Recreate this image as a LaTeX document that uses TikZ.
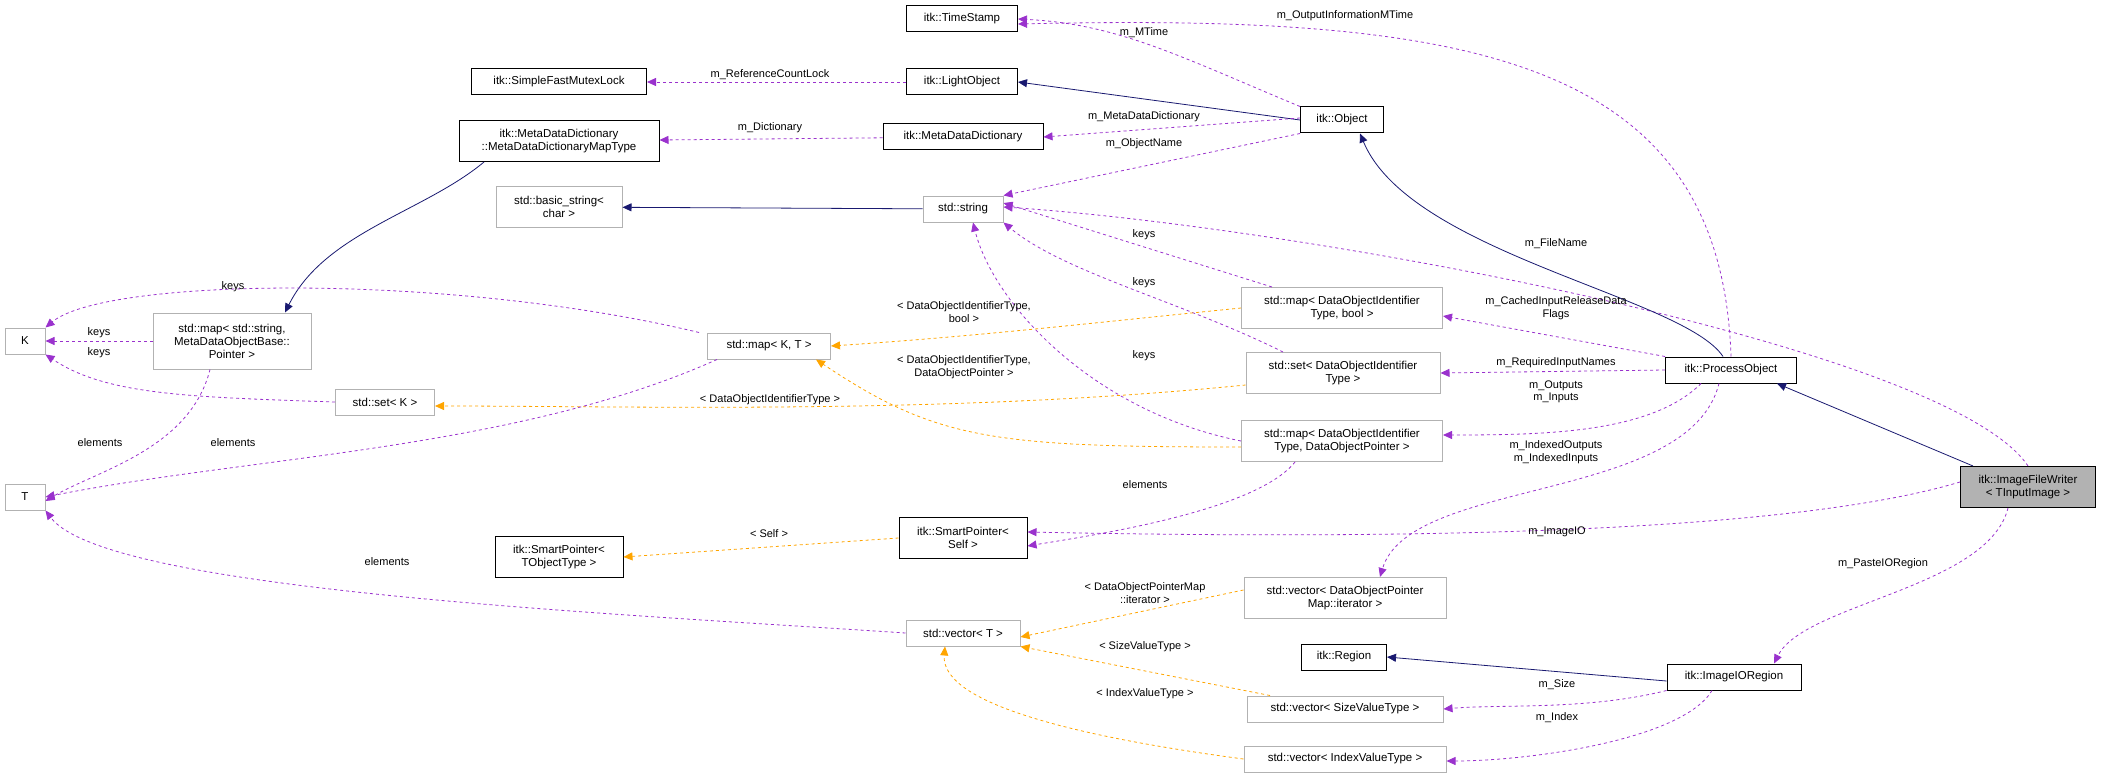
\documentclass[tikz,border=0pt]{standalone}
\usepackage{fontspec}
\setmainfont{Liberation Sans}
\usetikzlibrary{arrows.meta}
\definecolor{pur}{HTML}{9A32CD}
\definecolor{nav}{HTML}{191970}
\definecolor{org}{HTML}{FFA500}
\begin{document}
\begin{tikzpicture}[x=1pt,y=-1pt,
 every node/.style={font=\fontsize{11.5}{13}\selectfont,align=center,inner sep=0pt},
 cls/.style={draw=black,line width=1pt,minimum width=#1},
 ext/.style={draw=gray!60,line width=1pt,minimum width=#1},
 h1/.style={minimum height=26pt},
 h2/.style={minimum height=41pt},
 tip/.style={-{Triangle[length=9pt,width=8pt]}},
 mem/.style={tip,draw=pur,dashed,line width=0.8pt},
 tpl/.style={tip,draw=org,dashed,line width=0.8pt},
 inh/.style={tip,draw=nav,line width=0.8pt},
 lbl/.style={font=\fontsize{11}{12.5}\selectfont}]
\useasboundingbox (0,0) rectangle (2104,773);
% nodes
\node[cls=111,h1] (ts) at (962,19) {itk::TimeStamp};
\node[cls=175,h1] (sfm) at (559,82) {itk::SimpleFastMutexLock};
\node[cls=111,h1] (lo) at (962,82) {itk::LightObject};
\node[cls=200,h2] (mt) at (559,141) {itk::MetaDataDictionary\\::MetaDataDictionaryMapType};
\node[cls=160,h1] (mdd) at (963,137) {itk::MetaDataDictionary};
\node[ext=126,h2] (bs) at (559,207) {std::basic\_string\textless\\char \textgreater};
\node[ext=80,h1] (str) at (963,209) {std::string};
\node[cls=83,h1] (obj) at (1342,120) {itk::Object};
\node[ext=40,h1] (K) at (25,341) {K};
\node[ext=158,minimum height=56pt] (msm) at (232,341) {std::map\textless{} std::string,\\MetaDataObjectBase::\\Pointer \textgreater};
\node[ext=123,h1] (mkt) at (769,346) {std::map\textless{} K, T \textgreater};
\node[ext=99,h1] (sk) at (385,402) {std::set\textless{} K \textgreater};
\node[ext=40,h1] (T) at (25,497) {T};
\node[ext=201,h2] (mdb) at (1342,308) {std::map\textless{} DataObjectIdentifier\\Type, bool \textgreater};
\node[ext=194,h2] (sdi) at (1343,373) {std::set\textless{} DataObjectIdentifier\\Type \textgreater};
\node[ext=201,h2] (mdp) at (1342,441) {std::map\textless{} DataObjectIdentifier\\Type, DataObjectPointer \textgreater};
\node[cls=131,h1] (po) at (1731,370) {itk::ProcessObject};
\node[cls=135,h2,fill=gray!60] (w) at (2028,487) {itk::ImageFileWriter\\\textless{} TInputImage \textgreater};
\node[cls=128,h2] (sps) at (963,538) {itk::SmartPointer\textless\\Self \textgreater};
\node[cls=128,h2] (spt) at (559,557) {itk::SmartPointer\textless\\TObjectType \textgreater};
\node[ext=202,h2] (vit) at (1345,598) {std::vector\textless{} DataObjectPointer\\Map::iterator \textgreater};
\node[ext=114,h1] (vt) at (963,633) {std::vector\textless{} T \textgreater};
\node[cls=85,h1] (reg) at (1344,657) {itk::Region};
\node[cls=134,h1] (ior) at (1734,677) {itk::ImageIORegion};
\node[ext=196,h1] (vs) at (1345,709) {std::vector\textless{} SizeValueType \textgreater};
\node[ext=202,h1] (vi) at (1345,759) {std::vector\textless{} IndexValueType \textgreater};
% edges
\draw[mem] (obj.north west) .. controls +(-120,-50) and +(100,5) .. (ts.east);
\draw[mem] (po.north) .. controls +(-10,-300) and +(450,-10) .. ([yshift=-5pt]ts.east);
\draw[mem] (lo) -- (sfm);
\draw[inh] (obj.west) -- (lo.east);
\draw[mem] ([yshift=2pt]obj.west) -- (mdd.east);
\draw[mem] (mdd) -- (mt);
\draw[mem] (obj.south west) -- (str.north east);
\draw[inh] (str) -- (bs);
\draw[inh] ([xshift=-75pt]mt.south) .. controls +(-60,50) and +(40,-80) .. ([xshift=53pt]msm.north);
\draw[mem] (w.north) .. controls +(-80,-120) and +(300,20) .. ([yshift=2pt]str.east);
\draw[mem] ([xshift=-70pt]mdb.north) -- ([yshift=6pt]str.east);
\draw[mem] ([xshift=-60pt]sdi.north) .. controls +(-100,-50) and +(60,50) .. (str.south east);
\draw[mem] (mdp.west) .. controls +(-150,-30) and +(20,80) .. ([xshift=10pt]str.south);
\draw[mem] (po.north west) -- ([yshift=-8pt]mdb.east);
\draw[mem] (po.west) -- (sdi.east);
\draw[mem] ([xshift=-30pt]po.south) .. controls +(-50,50) and +(100,0) .. ([yshift=6pt]mdp.east);
\draw[inh] ([xshift=-8pt]po.north) .. controls +(-40,-60) and +(50,120) .. ([xshift=18pt]obj.south);
\draw[inh] ([xshift=-55pt]w.north) -- ([xshift=-20pt]po.south east);
\draw[mem] ([xshift=-12pt]po.south) .. controls +(-30,120) and +(30,-100) .. ([xshift=35pt]vit.north);
\draw[tpl] (mdb.west) .. controls +(-150,15) and +(150,-10) .. (mkt.east);
\draw[tpl] ([yshift=-6pt]mdp.west) .. controls +(-250,0) and +(120,80) .. ([xshift=-15pt]mkt.south east);
\draw[tpl] ([yshift=-12pt]sdi.west) .. controls +(-300,30) and +(200,0) .. ([yshift=-4pt]sk.east);
\draw[mem] ([xshift=-8pt]mkt.north west) .. controls +(-250,-60) and +(60,-50) .. (K.north east);
\draw[mem] (msm.west) -- (K.east);
\draw[mem] (sk.west) .. controls +(-150,-5) and +(60,40) .. (K.south east);
\draw[mem] ([xshift=-22pt]msm.south) .. controls +(-20,80) and +(50,-30) .. ([yshift=-4pt]T.east);
\draw[mem] ([xshift=10pt]mkt.south west) .. controls +(-200,90) and +(200,-40) .. (T.east);
\draw[mem] (vt.west) .. controls +(-300,-20) and +(60,80) .. (T.south east);
\draw[mem] ([xshift=-47pt]mdp.south) .. controls +(-40,50) and +(60,-10) .. ([yshift=-8pt]sps.east);
\draw[tpl] (sps.west) -- (spt.east);
\draw[mem] ([yshift=5pt]w.west) .. controls +(-200,60) and +(250,5) .. ([yshift=6pt]sps.east);
\draw[tpl] ([yshift=8pt]vit.west) -- ([yshift=-4pt]vt.east);
\draw[mem] ([xshift=-20pt]w.south) .. controls +(-20,80) and +(30,-60) .. ([xshift=40pt]ior.north);
\draw[inh] ([yshift=-4pt]ior.west) -- (reg.east);
\draw[mem] (ior.south west) .. controls +(-80,20) and +(60,-5) .. (vs.east);
\draw[mem] ([xshift=-22pt]ior.south) .. controls +(-30,50) and +(80,0) .. ([yshift=-2pt]vi.east);
\draw[tpl] ([xshift=-75pt]vs.north) -- (vt.south east);
\draw[tpl] (vi.west) .. controls +(-150,-20) and +(-5,60) .. ([xshift=-18pt]vt.south);
% labels
\node[lbl] (l1) at (1144,33) {m\_MTime};
\node[lbl] (l2) at (1345,16) {m\_OutputInformationMTime};
\node[lbl] (l3) at (770,75) {m\_ReferenceCountLock};
\node[lbl] (l4) at (1144,117) {m\_MetaDataDictionary};
\node[lbl] (l5) at (770,128) {m\_Dictionary};
\node[lbl] (l6) at (1144,144) {m\_ObjectName};
\node[lbl] (l7) at (1556,244) {m\_FileName};
\node[lbl] (l8) at (1144,235) {keys};
\node[lbl] (l9) at (1144,283) {keys};
\node[lbl] (l10) at (1144,356) {keys};
\node[lbl] (l11) at (1556,308) {m\_CachedInputReleaseData\\Flags};
\node[lbl] (l12) at (1556,363) {m\_RequiredInputNames};
\node[lbl] (l13) at (1556,392) {m\_Outputs\\m\_Inputs};
\node[lbl] (l14) at (1556,452) {m\_IndexedOutputs\\m\_IndexedInputs};
\node[lbl] (l15) at (964,312) {\textless{} DataObjectIdentifierType,\\bool \textgreater};
\node[lbl] (l16) at (964,367) {\textless{} DataObjectIdentifierType,\\DataObjectPointer \textgreater};
\node[lbl] (l17) at (770,400) {\textless{} DataObjectIdentifierType \textgreater};
\node[lbl] (l18) at (233,287) {keys};
\node[lbl] (l19) at (99,333) {keys};
\node[lbl] (l20) at (99,353) {keys};
\node[lbl] (l21) at (100,443) {elements};
\node[lbl] (l22) at (233,443) {elements};
\node[lbl] (l23) at (387,562) {elements};
\node[lbl] (l24) at (1145,485) {elements};
\node[lbl] (l25) at (769,534) {\textless{} Self \textgreater};
\node[lbl] (l26) at (1557,532) {m\_ImageIO};
\node[lbl] (l27) at (1145,593) {\textless{} DataObjectPointerMap\\::iterator \textgreater};
\node[lbl] (l28) at (1883,564) {m\_PasteIORegion};
\node[lbl] (l29) at (1557,685) {m\_Size};
\node[lbl] (l30) at (1557,718) {m\_Index};
\node[lbl] (l31) at (1145,647) {\textless{} SizeValueType \textgreater};
\node[lbl] (l32) at (1145,694) {\textless{} IndexValueType \textgreater};
\end{tikzpicture}
\end{document}
